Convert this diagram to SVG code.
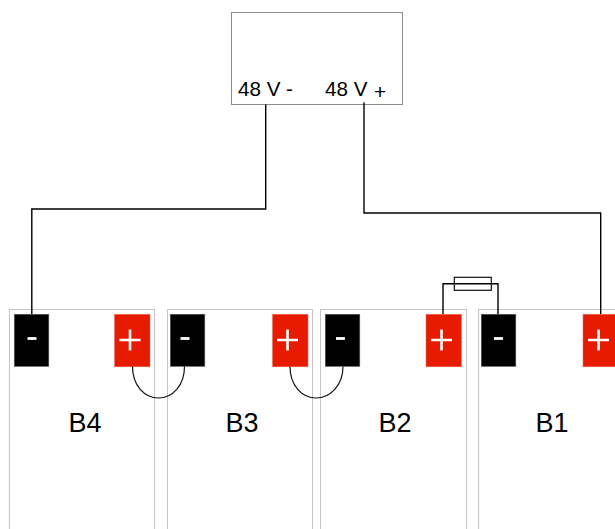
<svg xmlns="http://www.w3.org/2000/svg" width="615" height="529" viewBox="0 0 615 529">
<style>
.batt{fill:#fff;stroke:#c4c4c4;stroke-width:1}
.neg{fill:#000;stroke:#555;stroke-width:.6}
.pos{fill:#e61b00;stroke:#f06a55;stroke-width:.5}
.wire{fill:none;stroke:#000;stroke-width:1.4}
.thin{fill:none;stroke:#111;stroke-width:1.2}
text{font-family:"Liberation Sans",Arial,sans-serif;fill:#000}
.lbl{font-size:20.600px}
.name{font-size:27px;text-anchor:middle}
.bar{stroke:#fff;stroke-width:2.800;fill:none}
.cross{stroke:#fff;stroke-width:2.600;fill:none}
</style>
<g id="b4">
<rect class="batt" x="9.500" y="309.500" width="145" height="240"/>
<rect class="neg" x="14.300" y="314.300" width="34.500" height="52"/>
<path class="bar" d="M27.500 338.500h9"/>
<rect class="pos" x="114.500" y="314.300" width="35.500" height="52.500"/>
<path class="cross" d="M119.500 340h21M130 329.500v21"/>
<text class="name" x="85" y="432">B4</text>
</g>
<g id="b3">
<rect class="batt" x="167.500" y="309.500" width="145" height="240"/>
<rect class="neg" x="170.300" y="314.300" width="34.500" height="52"/>
<path class="bar" d="M180.500 338.500h9"/>
<rect class="pos" x="272.500" y="314.300" width="35.500" height="52.500"/>
<path class="cross" d="M277 340h21M287.500 329.500v21"/>
<text class="name" x="242" y="432">B3</text>
</g>
<g id="b2">
<rect class="batt" x="320.500" y="309.500" width="146" height="240"/>
<rect class="neg" x="325.300" y="314.300" width="34.500" height="52"/>
<path class="bar" d="M336 338.500h9"/>
<rect class="pos" x="426" y="314.300" width="35.500" height="52.500"/>
<path class="cross" d="M431 340h21M441.500 329.500v21"/>
<text class="name" x="395" y="432">B2</text>
</g>
<g id="b1">
<rect class="batt" x="478.500" y="309.500" width="160" height="240"/>
<rect class="neg" x="481.300" y="314.300" width="34.500" height="52"/>
<path class="bar" d="M494 338.500h9"/>
<rect class="pos" x="583" y="314.300" width="35.500" height="52.500"/>
<path class="cross" d="M588 340h21M598.500 329.500v21"/>
<text class="name" x="552" y="432">B1</text>
</g>
<g id="supply">
<rect x="231.500" y="12.500" width="171" height="92" fill="#fff" stroke="#8c8c8c" stroke-width="1"/>
<text class="lbl" x="238" y="96">48 V -</text>
<text class="lbl" x="325" y="96">48 V</text>
<text x="374" y="99" font-size="20.600">+</text>
</g>
<g id="connectors">
<path class="wire" d="M265.700 104.500V209H31.800V314"/>
<path class="wire" d="M364 102.500V213H600.700V314"/>
<path class="thin" d="M132.500 366.500c0 19 12 31.500 26 31.500s26-12.500 26-31.500"/>
<path class="thin" d="M290 366.500c0 19 12 31.500 26 31.500s27-12.500 27-31.500"/>
<path class="wire" d="M443 314V283.700H498V314" stroke="#222"/>
<rect x="454.300" y="277.300" width="37" height="13" fill="none" stroke="#111" stroke-width="1.200"/>
</g>
</svg>
